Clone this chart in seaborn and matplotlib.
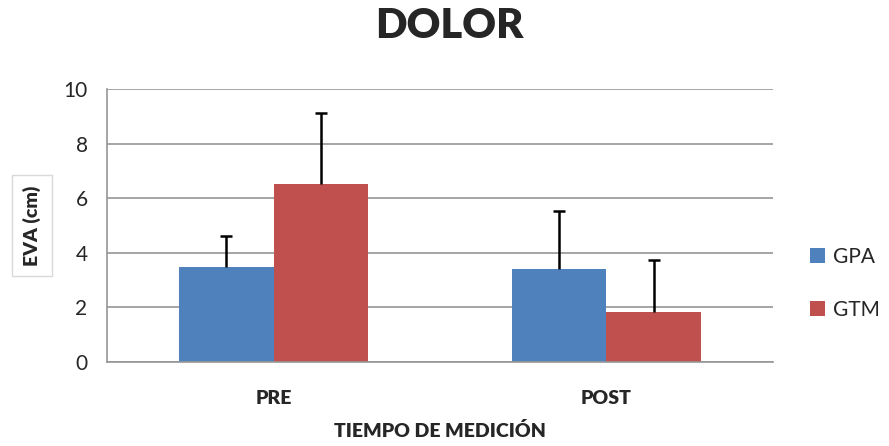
import pandas as pd
import numpy as np
import matplotlib
matplotlib.use('Agg')
import matplotlib.pyplot as plt
import seaborn as sns

momentos = ['PRE', 'POST']
grupos = ['GPA', 'GTM']
gpa_media = [3.47, 3.39]
gtm_media = [6.51, 1.82]
gpa_de = [1.14, 2.13]
gtm_de = [2.62, 1.90]

colores = {'GPA': '#4F81BD', 'GTM': '#C0504D'}

df = pd.DataFrame({
    'momento': momentos * 2,
    'grupo': ['GPA'] * 2 + ['GTM'] * 2,
    'eva': gpa_media + gtm_media,
    'de': gpa_de + gtm_de,
})

sns.set_style('white')
plt.rcParams['font.family'] = ['Lato', 'DejaVu Sans']

fig = plt.figure(figsize=(8.89, 4.46), dpi=100)
ax = fig.add_axes([0.1204, 0.1883, 0.7491, 0.6121])

sns.barplot(data=df, x='momento', y='eva', hue='grupo', order=momentos,
            hue_order=grupos, palette=colores, width=0.57, saturation=1,
            errorbar=None, linewidth=0, ax=ax, zorder=2)

# upper-only error bars on the drawn bars
for patch, (_, row) in zip(ax.patches, df.iterrows()):
    cx = patch.get_x() + patch.get_width() / 2
    top = row['eva'] + row['de']
    half = patch.get_width() * 0.065
    ax.vlines(cx, row['eva'], top, color='black', linewidth=1.8, zorder=3)
    ax.hlines(top, cx - half, cx + half, color='black', linewidth=1.8, zorder=3)

ax.set_ylim(0, 10)
ax.set_xlim(-0.5, 1.5)
ax.set_yticks(range(0, 11, 2))
ax.yaxis.grid(True, color='#969696', linewidth=1.2, zorder=0)
ax.set_axisbelow(True)

for s in ['top', 'right']:
    ax.spines[s].set_visible(False)
for s in ['left', 'bottom']:
    ax.spines[s].set_color('#969696')
    ax.spines[s].set_linewidth(1.2)

ax.set_xticks([0, 1])
ax.set_xticklabels(momentos, fontsize=14, fontweight='heavy')
ax.tick_params(axis='x', length=0, pad=20)
ax.set_xticks([-0.5, 0.5, 1.5], minor=True)
ax.tick_params(axis='x', which='minor', length=6, color='#969696', width=1.2, direction='out')
ax.tick_params(axis='y', length=6, color='#969696', width=1.2, direction='out', labelsize=15, pad=8)

ax.set_xlabel('TIEMPO DE MEDICIÓN', fontsize=14, fontweight='heavy', labelpad=11)
ax.set_ylabel('EVA (cm)', fontsize=14, fontweight='heavy', labelpad=16,
              bbox=dict(facecolor='white', edgecolor='#d9d9d9', boxstyle='square,pad=0.55'))

fig.suptitle('DOLOR', fontsize=30, fontweight='heavy', x=0.505, y=0.985)

handles, labels = ax.get_legend_handles_labels()
ax.legend_.remove()
fig.legend(handles, labels, loc='center left', bbox_to_anchor=(0.89, 0.365),
           frameon=False, fontsize=15, handlelength=0.7, handleheight=0.7,
           labelspacing=1.6, handletextpad=0.4)

fig.savefig('out.png', dpi=100)
